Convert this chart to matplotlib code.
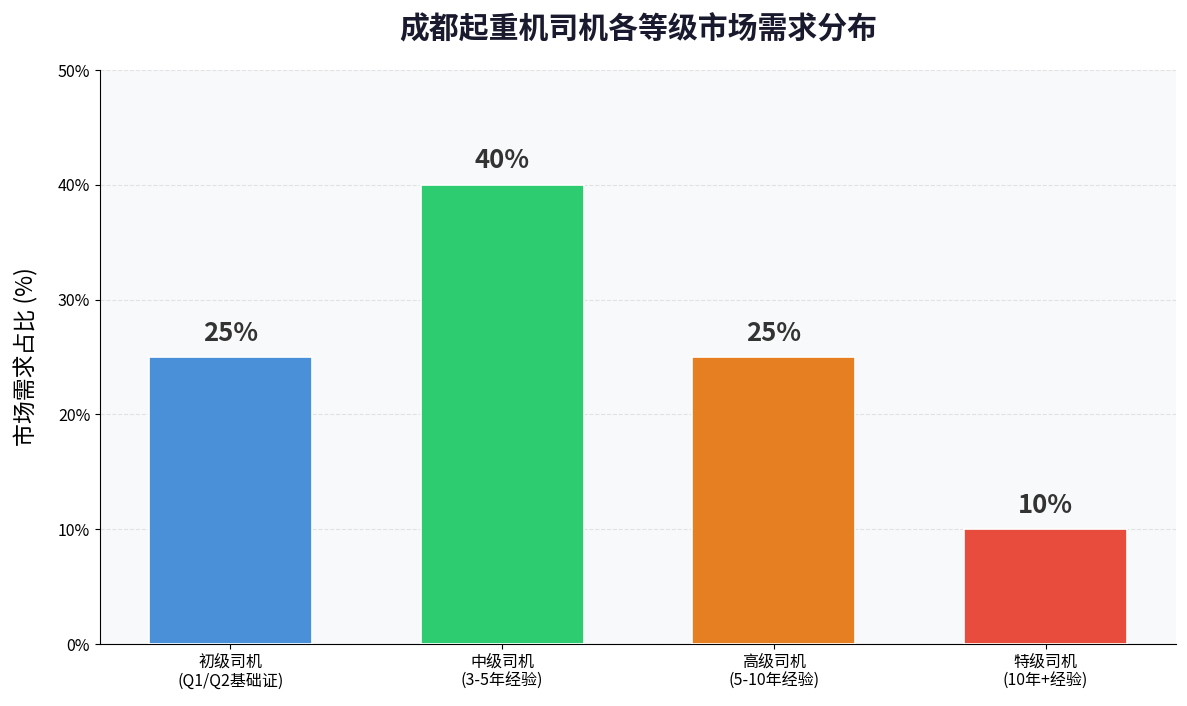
import matplotlib
matplotlib.use("Agg")
import matplotlib.pyplot as plt
from matplotlib.ticker import FuncFormatter

plt.rcParams['font.family'] = ['Noto Sans CJK SC', 'DejaVu Sans']

categories = ["初级司机\n(Q1/Q2基础证)", "中级司机\n(3-5年经验)", "高级司机\n(5-10年经验)", "特级司机\n(10年+经验)"]
values = [25, 40, 25, 10]
colors = ["#4A90D9", "#2ECC71", "#E67E22", "#E74C3C"]
title = "成都起重机司机各等级市场需求分布"
ylabel = "市场需求占比 (%)"

fig = plt.figure(figsize=(11.87, 7.06), dpi=100)
ax = fig.add_axes([0.0842, 0.0878, 0.9065, 0.813])
ax.set_facecolor("#F8F9FA")

x = list(range(len(categories)))
bars = ax.bar(x, values, width=0.6, color=colors, edgecolor="white", linewidth=1.2, zorder=3)
for xi, v in zip(x, values):
    ax.text(xi, v + 0.9, f"{v}%", ha="center", va="bottom", fontsize=18.5, fontweight="bold", color="#333333", zorder=4)

ax.set_xticks(x)
ax.set_xticklabels(categories, fontsize=11.5, linespacing=1.15)
ax.set_ylim(0, 50)
ax.set_yticks([0, 10, 20, 30, 40, 50])
ax.yaxis.set_major_formatter(FuncFormatter(lambda v, p: f"{int(v)}%"))
ax.tick_params(axis="y", labelsize=11.5)
ax.grid(axis="y", linestyle="--", color="#DDDDDD", alpha=0.8, zorder=0)
ax.set_axisbelow(True)
ax.spines["top"].set_visible(False)
ax.spines["right"].set_visible(False)
ax.set_ylabel(ylabel, fontsize=16.5, labelpad=14)
ax.set_title(title, fontsize=21.5, fontweight="bold", color="#1A1A2E", pad=23)

fig.savefig("out.png", dpi=100)
